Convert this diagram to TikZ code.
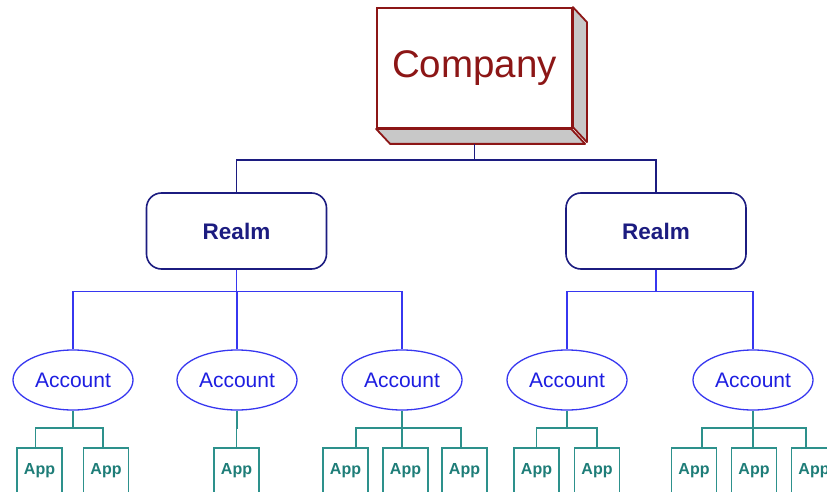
\documentclass[tikz,border=0pt]{standalone}
\usepackage{fontspec}
\setmainfont{Liberation Sans}
\usetikzlibrary{shapes.geometric}
\definecolor{compred}{RGB}{140,22,22}
\definecolor{sidegray}{RGB}{200,200,200}
\definecolor{navyc}{RGB}{28,28,128}
\definecolor{bluec}{RGB}{55,55,240}
\definecolor{acctext}{RGB}{30,30,225}
\definecolor{tealc}{RGB}{45,145,140}
\definecolor{apptext}{RGB}{30,125,120}
\tikzset{
  compbox/.style={draw=compred, line width=1.8pt, fill=white, minimum width=195pt, minimum height=120pt, inner sep=0pt, text=compred, font=\fontsize{38.5}{40}\selectfont},
  sideface/.style={draw=compred, line width=1.8pt, fill=sidegray, line join=round},
  realmbox/.style={draw=navyc, line width=1.6pt, rounded corners=15pt, fill=white, minimum width=180pt, minimum height=76pt, inner sep=0pt, text=navyc, font=\fontsize{22.5}{24}\selectfont\bfseries},
  accbox/.style={ellipse, draw=bluec, line width=1.3pt, fill=white, minimum width=120pt, minimum height=60pt, inner sep=0pt, text=acctext, font=\fontsize{21}{22}\selectfont},
  appbox/.style={draw=tealc, line width=1.2pt, fill=white, minimum width=45pt, minimum height=46pt, inner sep=0pt, text=apptext, font=\fontsize{16}{17}\selectfont\bfseries},
  navyline/.style={draw=navyc, line width=1.8pt},
  blueline/.style={draw=bluec, line width=1.2pt},
  tealline/.style={draw=tealc, line width=1.2pt},
}
\begin{document}
\begin{tikzpicture}[x=1pt,y=-1pt]
\useasboundingbox (0,0) rectangle (827,492);
\clip (0,0) rectangle (827,492);
% Company 3D box
\node[compbox] (company) at (474.5,68) {Company};
\filldraw[sideface] (company.north east) -- ++(14,15) -- ++(0,120) -- ++(-14,-15) -- cycle;
\filldraw[sideface] (company.south west) -- ++(14,15) -- ++(195,0) -- ++(-14,-15) -- cycle;
\coordinate (cbot) at ([yshift=-15pt]company.south);
% Realms
\node[realmbox] (realmL) at (236.5,231) {Realm};
\node[realmbox] (realmR) at (656,231) {Realm};
\draw[navyline] (cbot) -- ++(0,16) -| (realmL.north);
\draw[navyline] (cbot) -- ++(0,16) -| (realmR.north);
% Accounts
\node[accbox] (acc1) at (73,380) {Account};
\node[accbox] (acc2) at (237,380) {Account};
\node[accbox] (acc3) at (402,380) {Account};
\node[accbox] (acc4) at (567,380) {Account};
\node[accbox] (acc5) at (753,380) {Account};
\draw[blueline] (realmL.south) -- ++(0,22) -| (acc1.north);
\draw[blueline] (realmL.south) -- ++(0,22) -| (acc2.north);
\draw[blueline] (realmL.south) -- ++(0,22) -| (acc3.north);
\draw[blueline] (realmR.south) -- ++(0,22) -| (acc4.north);
\draw[blueline] (realmR.south) -- ++(0,22) -| (acc5.north);
% Apps
\node[appbox] (p11) at (39.5,471) {App};
\node[appbox] (p12) at (106,471) {App};
\node[appbox] (p21) at (236.5,471) {App};
\node[appbox] (p31) at (345.5,471) {App};
\node[appbox] (p32) at (405.5,471) {App};
\node[appbox] (p33) at (464.5,471) {App};
\node[appbox] (p41) at (536.5,471) {App};
\node[appbox] (p42) at (597,471) {App};
\node[appbox] (p51) at (694,471) {App};
\node[appbox] (p52) at (754,471) {App};
\node[appbox] (p53) at (814,471) {App};
% junctions
\coordinate (j1) at (acc1.south |- 0,428);
\coordinate (j2) at (acc2.south |- 0,428);
\coordinate (j3) at (acc3.south |- 0,428);
\coordinate (j4) at (acc4.south |- 0,428);
\coordinate (j5) at (acc5.south |- 0,428);
\draw[tealline] (acc1.south) -- (j1);
\draw[tealline] (acc2.south) -- (j2);
\draw[tealline] (acc3.south) -- (j3);
\draw[tealline] (acc4.south) -- (j4);
\draw[tealline] (acc5.south) -- (j5);
\draw[tealline] ([xshift=-4pt]p11.north) |- (j1);
\draw[tealline] ([xshift=-3pt]p12.north) |- (j1);
\draw[tealline] (p21.north) |- (j2);
\draw[tealline] ([xshift=10.5pt]p31.north) |- (j3);
\draw[tealline] ([xshift=-3.5pt]p32.north) |- (j3);
\draw[tealline] ([xshift=-3.5pt]p33.north) |- (j3);
\draw[tealline] (p41.north) |- (j4);
\draw[tealline] (p42.north) |- (j4);
\draw[tealline] ([xshift=8pt]p51.north) |- (j5);
\draw[tealline] ([xshift=-1pt]p52.north) |- (j5);
\draw[tealline] ([xshift=-8pt]p53.north) |- (j5);
\end{tikzpicture}
\end{document}
